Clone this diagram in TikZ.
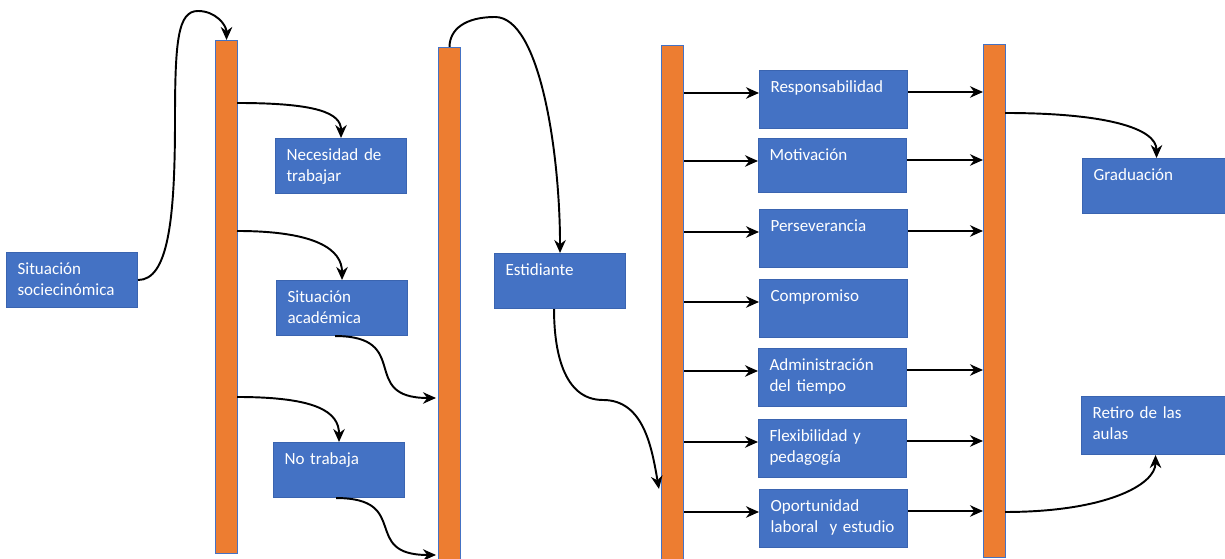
\documentclass[tikz,border=0pt]{standalone}
\usepackage{fontspec}
\setmainfont{Carlito}
\usetikzlibrary{arrows.meta}

\definecolor{azulcaja}{HTML}{4472C4}
\definecolor{bordeazul}{HTML}{3A64B0}
\definecolor{naranja}{HTML}{ED7D31}

\tikzset{
  caja/.style={draw=bordeazul, line width=0.6pt, fill=azulcaja, text=white,
    font=\fontsize{9.7}{12}\selectfont, anchor=north west, align=left,
    text width=2.18cm, inner xsep=0.22cm, inner ysep=0.18cm,
    text height=0.26cm, text depth=0.48cm},
  cajaancha/.style={caja, text width=2.52cm, text depth=0.54cm},
  barra/.style={draw=azulcaja, line width=0.6pt, fill=naranja,
    minimum width=0.44cm, inner sep=0pt, anchor=north west},
  flecha/.style={line width=1.1pt, -{Stealth[length=2.6mm,width=2.3mm]}}
}

\begin{document}
\begin{tikzpicture}

    % Fix the page to the size of the reference
    \useasboundingbox (0,0) rectangle (24.5,11.18);

    % The four orange bars
    \node[barra, minimum height=10.26cm] (b1) at (4.30,10.38) {};
    \node[barra, minimum height=10.30cm] (b2) at (8.76,10.24) {};
    \node[barra, minimum height=10.34cm] (b3) at (13.22,10.28) {};
    \node[barra, minimum height=10.26cm] (b4) at (19.66,10.30) {};

    % Boxes on the left
    \node[caja] (soc) at (0.12,6.14) {Situación\\sociecinómica};
    \node[caja] (nec) at (5.50,8.42) {Necesidad de\\trabajar};
    \node[caja] (sac) at (5.52,5.58) {Situación\\académica};
    \node[caja] (notr) at (5.46,2.34) {No trabaja};
    \node[caja] (est) at (9.88,6.12) {Estidiante};

    % Boxes in the middle column
    \node[cajaancha] (resp) at (15.18,9.78) {Responsabilidad};
    \node[cajaancha, text depth=0.46cm] (moti) at (15.16,8.42) {Motivación};
    \node[cajaancha] (pers) at (15.18,7.00) {Perseverancia};
    \node[cajaancha] (comp) at (15.18,5.60) {Compromiso};
    \node[cajaancha] (admi) at (15.16,4.22) {Administración\\del tiempo};
    \node[cajaancha] (flex) at (15.16,2.80) {Flexibilidad y\\pedagogía};
    \node[cajaancha] (opor) at (15.18,1.40) {Oportunidad\\laboral~ y estudio};

    % Boxes on the right (cut by the page edge)
    \node[cajaancha, text depth=0.48cm] (grad) at (21.64,8.02) {Graduación};
    \node[cajaancha] (reti) at (21.62,3.26) {Retiro de las\\aulas};

    % Points on the bars where the curved arrows start or end
    \coordinate (b1a) at (4.74,9.12);   % bar 1, to Necesidad
    \coordinate (b1b) at (4.74,6.56);   % bar 1, to Situación académica
    \coordinate (b1c) at (4.74,3.24);   % bar 1, to No trabaja
    \coordinate (b2a) at (8.72,3.22);   % bar 2, from Situación académica
    \coordinate (b2b) at (8.72,0.08);   % bar 2, from No trabaja
    \coordinate (b3a) at (13.18,1.40);  % bar 3, from Estidiante
    \coordinate (b4a) at (20.10,8.92);  % bar 4, to Graduación
    \coordinate (b4b) at (20.10,0.94);  % bar 4, to Retiro
    \coordinate (c1) at (3.50,8.78);    % rise of the first arrow
    \coordinate (c2) at (3.96,10.96);   % top of the first arrow
    \coordinate (c3) at (9.90,10.84);   % top of the arrow to Estidiante
    \coordinate (c4) at (12.06,3.18);   % bend of the arrow to bar 3

    % Situación sociecinómica to bar 1
    \draw[flecha] (soc.east) .. controls +(0.6,0) and +(0,-2.0) .. (c1)
        .. controls +(0,1.6) and +(-0.4,0) .. (c2)
        .. controls +(0.35,0) and +(0,0.3) .. (b1.north);

    % Bar 1 to the three boxes
    \draw[flecha] (b1a) .. controls +(1.6,0) and +(0,0.5) .. (nec.north);
    \draw[flecha] (b1b) .. controls +(1.6,0) and +(0,0.6) .. (sac.north);
    \draw[flecha] (b1c) .. controls +(1.6,0) and +(0,0.6) .. (notr.north);

    % Boxes back into bar 2
    \draw[flecha] ([xshift=-0.14cm]sac.south) to[out=0,in=180,looseness=1.7] (b2a);
    \draw[flecha] ([xshift=-0.06cm]notr.south) to[out=0,in=180,looseness=1.7] (b2b);

    % Bar 2 to Estidiante, then on to bar 3
    \draw[flecha] (b2.north) .. controls +(0,0.35) and +(-0.6,0) .. (c3)
        .. controls +(0.9,0) and +(0,2.0) .. (est.north);
    \draw[flecha] ([xshift=-0.12cm]est.south) to[out=-90,in=180] (c4)
        to[out=0,in=100] (b3a);

    % Bar 3 into every box of the middle column
    \foreach \c in {resp,moti,pers,comp,admi,flex,opor}{
        \coordinate (\c-in) at ([yshift=-0.46cm]\c.north west);
        \draw[flecha] (b3.east |- \c-in) -- (\c-in);
    }

    % Middle column into bar 4 (none from Compromiso)
    \foreach \c in {resp,moti,pers,admi,flex,opor}{
        \coordinate (\c-out) at ([yshift=-0.44cm]\c.north east);
        \draw[flecha] (\c-out) -- (b4.west |- \c-out);
    }

    % Bar 4 to the two outcomes
    \draw[flecha] (b4a) .. controls +(2.0,0) and +(0,0.6) .. (grad.north);
    \draw[flecha] (b4b) .. controls +(2.0,0) and +(0,-0.6) .. (reti.south);

\end{tikzpicture}
\end{document}
